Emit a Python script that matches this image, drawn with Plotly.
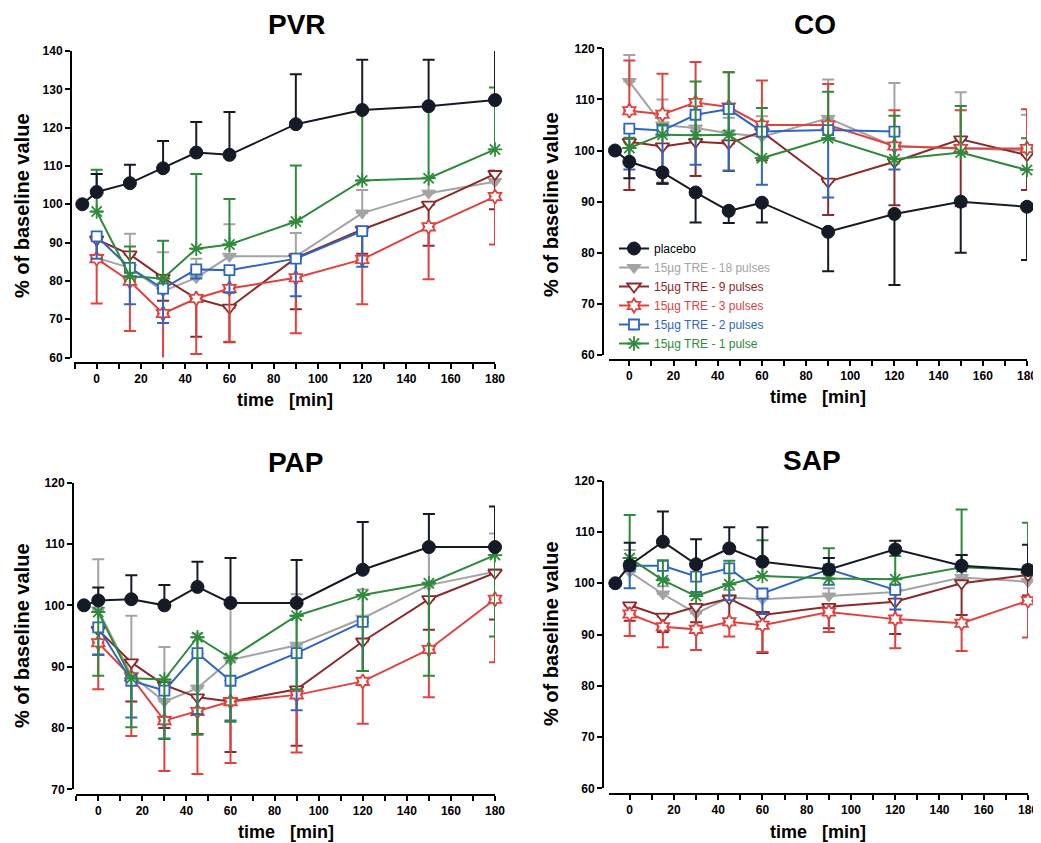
import plotly.graph_objects as go

W, H = 1041, 843
OFF = 8  # default body margin of the html page

# ---------------- data ----------------
T = [0, 15, 30, 45, 60, 90, 120, 150, 180]
T_BASE = -6.5
T_PLACEBO = [T_BASE] + T
T_BLUE = T[:7]

SERIES = ["placebo", "15µg TRE - 18 pulses", "15µg TRE - 9 pulses",
          "15µg TRE - 3 pulses", "15µg TRE - 2 pulses", "15µg TRE - 1 pulse"]

# PVR
pvr_placebo = [100, 103.2, 105.5, 109.4, 113.5, 112.9, 120.9, 124.6, 125.6, 127.2]
pvr_placebo_up = [None, 4.7, 4.8, 7.1, 8.0, 11.2, 13.0, 13.1, 12.1, 14.5]
pvr_p18 = [86.0, 83.4, 77.3, 80.8, 86.4, 86.4, 97.7, 102.9, 105.9]
pvr_p18_up = [5, 8.9, 10.2, 5, 8.4, 6.1, 6, 4, 3]
pvr_p9 = [90.8, 86.9, 80.8, 75.4, 73.0, 86.0, 93.4, 99.9, 107.9]
pvr_p9_dn = [5, 6, 6, 10, 9, 13.4, 6.3, 10.7, 9.2]
pvr_p3 = [85.8, 79.9, 71.5, 75.4, 78.0, 80.8, 85.6, 94.1, 102.0]
pvr_p3_dn = [11.7, 13.0, 11.9, 14.5, 13.9, 14.5, 11.7, 13.7, 12.5]
pvr_p2 = [91.6, 83.4, 78.0, 83.0, 82.8, 85.8, 93.0]
pvr_p2_dn = [5.8, 9.5, 9.0, 2.4, 5.9, 9.8, 9.3]
pvr_p1 = [98.1, 81.2, 80.6, 88.4, 89.5, 95.5, 106.2, 106.8, 114.3]
pvr_p1_up = [10.9, 7.8, 9.9, 19.5, 11.9, 14.6, 18.3, 18.7, 16.2]

# CO
co_placebo = [100, 97.8, 95.7, 91.8, 88.2, 89.8, 84.1, 87.6, 90.0, 89.0]
co_placebo_dn = [None, 3.2, 2.2, 5.9, 2.4, 3.9, 7.7, 13.9, 10.0, 10.4]
co_p18 = [113.5, 105.0, 104.4, 103.4, 102.7, 106.3, 100.8, 100.5, 100.0]
co_p18_up = [5.2, 5.0, 3, 3, 4, 7.6, 12.4, 10.9, 7.0]
co_p9 = [101.7, 100.8, 101.7, 101.4, 103.7, 93.9, 97.8, 102.2, 99.1]
co_p9_dn = [9.4, 7.1, 6.7, 5.4, 5.6, 6.5, 8.5, 13.1, 6.8]
co_p3 = [107.8, 107.1, 109.4, 108.5, 105.0, 105.0, 100.9, 100.4, 100.4]
co_p3_up = [9.8, 7.9, 7.9, 6.8, 8.7, 8.0, 7.0, 7.5, 7.7]
co_p2 = [104.3, 103.9, 107.0, 108.1, 103.7, 104.0, 103.7]
co_p2_dn = [8.0, 10.4, 9.8, 12.0, 10.4, 13.2, 7.4]
co_p1 = [100.5, 103.1, 103.0, 103.1, 98.5, 102.4, 98.3, 99.6, 96.2]
co_p1_up = [2, 2, 10.5, 12.2, 9.8, 9.1, 8.5, 9.1, 6.2]

# PAP
pap_placebo = [100, 100.8, 101.0, 100.0, 103.0, 100.4, 100.4, 105.8, 109.5, 109.5]
pap_placebo_up = [None, 2.1, 3.9, 3.3, 4.1, 7.3, 7.0, 7.8, 5.4, 6.6]
pap_p18 = [99.2, 88.6, 84.3, 86.5, 91.1, 93.5, 97.9, 103.3, 105.5]
pap_p18_up = [8.3, 9.7, 8.9, 8.9, 9.0, 8.3, 4.7, 6, 6.2]
pap_p9 = [96.0, 90.7, 87.0, 85.0, 84.3, 86.3, 94.1, 101.0, 105.3]
pap_p9_dn = [4, 6.4, 7, 6, 8.2, 9.2, 4.8, 5, 7.6]
pap_p3 = [93.9, 88.3, 81.2, 82.7, 84.3, 85.4, 87.6, 92.8, 101.0]
pap_p3_dn = [7.6, 9.6, 8.2, 10.2, 10.0, 9.4, 6.9, 7.8, 10.3]
pap_p2 = [96.4, 87.7, 86.1, 92.2, 87.7, 92.2, 97.3]
pap_p2_dn = [4.5, 6.0, 7.9, 9.9, 6.5, 9.3, 8.0]
pap_p1 = [98.9, 88.1, 87.9, 94.8, 91.4, 98.3, 101.7, 103.6, 108.2]
pap_p1_dn = [10.4, 8.0, 9.6, 15.9, 10.4, 12, 12.4, 15.1, 13.3]

# SAP
sap_placebo = [100, 103.5, 108.1, 103.7, 106.8, 104.2, 102.7, 106.6, 103.4, 102.6]
sap_placebo_up = [None, 4.4, 5.9, 4.9, 4.1, 6.7, 2.2, 1.7, 2.1, 4.9]
sap_p18 = [102.2, 97.9, 94.1, 97.2, 96.9, 97.5, 98.3, 101.1, 100.3]
sap_p18_up = [4.3, 1.5, 1.5, 1.5, 1.5, 1.5, 1.5, 4.4, 1.5]
sap_p9 = [95.7, 93.5, 95.4, 97.0, 93.8, 95.4, 96.4, 100.0, 101.6]
sap_p9_dn = [3, 3, 3, 4, 7.4, 4.2, 6.3, 6.2, 4]
sap_p3 = [94.0, 91.5, 91.0, 92.5, 91.8, 94.4, 93.0, 92.2, 96.6]
sap_p3_dn = [4.3, 4.0, 4.0, 2.9, 5.2, 3.9, 5.7, 5.4, 7.2]
sap_p2 = [103.4, 103.4, 101.3, 102.9, 98.0, 102.7, 98.7]
sap_p2_dn = [4.4, 2.5, 3, 6.2, 4, 3, 3.8]
sap_p1 = [104.9, 100.6, 97.5, 99.8, 101.4, 100.9, 100.8, 103.1, 102.6]
sap_p1_up = [8.4, 3.9, 6.0, 4.6, 7.0, 5.9, 4.5, 11.3, 9.2]

PANEL_TITLES = ["PVR", "CO", "PAP", "SAP"]
X_TICKS = [0, 20, 40, 60, 80, 100, 120, 140, 160, 180]

# ---------------- styles ----------------
FONT = "Liberation Sans, Arial, Helvetica, sans-serif"
COLORS = ["#151b26", "#a3a3a3", "#8a2a2a", "#e0433f", "#2f66c2", "#2f8a3c"]
STYLE = [
    dict(symbol="circle", size=13, fill=True),
    dict(symbol="triangle-down", size=12, fill=True),
    dict(symbol="triangle-down", size=12, fill=False),
    dict(symbol="hexagram", size=11, fill=False),
    dict(symbol="square", size=10, fill=False),
    dict(symbol="asterisk-open", size=12, fill=True),
]
DRAW_ORDER = [1, 2, 3, 4, 5, 0]

# panel geometry in (screen) pixels
GEOM = [
    dict(xl=74, xr=495, yt=51, yb=357.5, yax=71, xax=363, x0=-10.25, y0=60, y1=140, ttl=(297, 25), xt=(285, 400), yt_=(22, 206)),
    dict(xl=609, xr=1027, yt=48.3, yb=355, yax=603, xax=360, x0=-9.2, y0=60, y1=120, ttl=(815, 25), xt=(818, 397), yt_=(551, 205)),
    dict(xl=76, xr=495, yt=482.7, yb=789.3, yax=73, xax=795, x0=-10.1, y0=70, y1=120, ttl=(296, 462), xt=(286, 832), yt_=(22, 636)),
    dict(xl=609, xr=1028, yt=480.7, yb=788.3, yax=603, xax=794, x0=-9.35, y0=60, y1=120, ttl=(812, 460), xt=(818, 832), yt_=(551, 634)),
]

PANEL_DATA = [
    [(T_PLACEBO, pvr_placebo, pvr_placebo_up, None), (T, pvr_p18, pvr_p18_up, None), (T, pvr_p9, None, pvr_p9_dn),
     (T, pvr_p3, None, pvr_p3_dn), (T_BLUE, pvr_p2, None, pvr_p2_dn), (T, pvr_p1, pvr_p1_up, None)],
    [(T_PLACEBO, co_placebo, None, co_placebo_dn), (T, co_p18, co_p18_up, None), (T, co_p9, None, co_p9_dn),
     (T, co_p3, co_p3_up, None), (T_BLUE, co_p2, None, co_p2_dn), (T, co_p1, co_p1_up, None)],
    [(T_PLACEBO, pap_placebo, pap_placebo_up, None), (T, pap_p18, pap_p18_up, None), (T, pap_p9, None, pap_p9_dn),
     (T, pap_p3, None, pap_p3_dn), (T_BLUE, pap_p2, None, pap_p2_dn), (T, pap_p1, None, pap_p1_dn)],
    [(T_PLACEBO, sap_placebo, sap_placebo_up, None), (T, sap_p18, sap_p18_up, None), (T, sap_p9, None, sap_p9_dn),
     (T, sap_p3, None, sap_p3_dn), (T_BLUE, sap_p2, None, sap_p2_dn), (T, sap_p1, sap_p1_up, None)],
]

FW, FH = W - OFF, H - OFF


def fx(p):
    return (p - OFF) / FW


def fy(p):
    return 1 - (p - OFF) / FH


def zeros(arr, n):
    return [0 if (arr is None or arr[i] is None) else arr[i] for i in range(n)]


fig = go.Figure()
layout = dict(
    width=FW, height=FH, margin=dict(l=0, r=0, t=0, b=0),
    paper_bgcolor="white", plot_bgcolor="rgba(0,0,0,0)",
    font=dict(family=FONT, color="black"),
    showlegend=True,
    legend=dict(x=fx(614), y=fy(234), xanchor="left", yanchor="top",
                bgcolor="rgba(0,0,0,0)", font=dict(size=12, family=FONT),
                tracegroupgap=0, itemwidth=30, traceorder="normal"),
)
annotations = []

for p, g in enumerate(GEOM):
    k = "" if p == 0 else str(p + 1)
    xa, ya = "x" + k, "y" + k
    layout["xaxis" + k] = dict(
        domain=[fx(g["xl"]), fx(g["xr"])], range=[g["x0"], 180], anchor="free", position=fy(g["xax"]),
        tickvals=X_TICKS, ticks="outside", ticklen=5, tickwidth=1.8, tickcolor="black",
        showline=True, linecolor="black", linewidth=2, showgrid=False, zeroline=False,
        tickfont=dict(size=12, family=FONT, weight="bold"), ticklabeloverflow="allow",
        minor=dict(dtick=10, tick0=0, ticks="outside", ticklen=5, tickwidth=1.8, tickcolor="black", showgrid=False),
        automargin=False, fixedrange=True,
    )
    layout["yaxis" + k] = dict(
        domain=[fy(g["yb"]), fy(g["yt"])], range=[g["y0"], g["y1"]], anchor="free", position=fx(g["yax"]),
        dtick=10, ticks="outside", ticklen=5, tickwidth=1.8, tickcolor="black",
        showline=True, linecolor="black", linewidth=2, showgrid=False, zeroline=False,
        tickfont=dict(size=12, family=FONT, weight="bold"), ticklabeloverflow="allow",
        automargin=False, fixedrange=True,
    )
    annotations.append(dict(text=PANEL_TITLES[p], x=fx(g["ttl"][0]), y=fy(g["ttl"][1]), xref="paper", yref="paper",
                            showarrow=False, xanchor="center", yanchor="middle", borderpad=0,
                            font=dict(size=28, family=FONT, weight="bold")))
    annotations.append(dict(text="time\u00a0\u00a0\u00a0[min]", x=fx(g["xt"][0]), y=fy(g["xt"][1]), xref="paper", yref="paper",
                            showarrow=False, xanchor="center", yanchor="middle",
                            font=dict(size=18, family=FONT, weight="bold")))
    annotations.append(dict(text="% of baseline value", x=fx(g["yt_"][0]), y=fy(g["yt_"][1]), xref="paper", yref="paper",
                            showarrow=False, xanchor="center", yanchor="middle", textangle=-90,
                            font=dict(size=20, family=FONT, weight="bold")))

    for s in DRAW_ORDER:
        xs, ys, up, dn = PANEL_DATA[p][s]
        n = len(ys)
        st = STYLE[s]
        col = COLORS[s]
        name = SERIES[s] if s == 0 else f"<span style='color:{col}'>{SERIES[s]}</span>"
        fig.add_trace(go.Scatter(
            x=xs, y=ys, mode="lines+markers", name=name, xaxis=xa, yaxis=ya,
            showlegend=(p == 1), legendrank=s + 1, cliponaxis=False,
            line=dict(color=col, width=2),
            marker=dict(symbol=st["symbol"], size=st["size"],
                        color=(col if st["fill"] else "white"),
                        line=dict(color=col, width=(1 if s in (0, 1) else 1.8))),
            error_y=dict(type="data", symmetric=False, array=zeros(up, n), arrayminus=zeros(dn, n),
                         color=col, thickness=2, width=6),
            hoverinfo="skip",
        ))

layout["annotations"] = annotations
fig.update_layout(**layout)
fig.write_html("out.html")
